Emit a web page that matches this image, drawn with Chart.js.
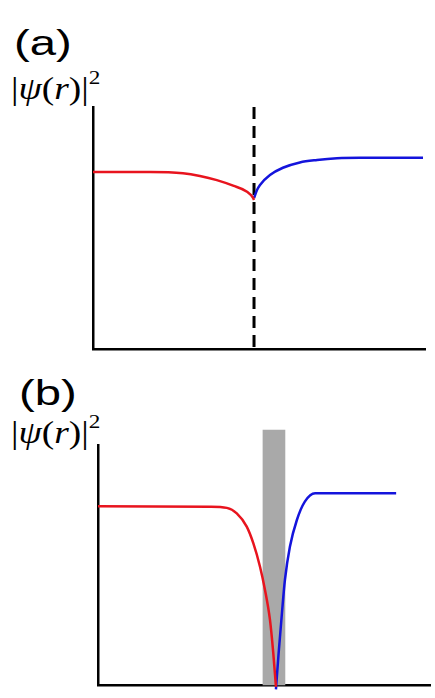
<!DOCTYPE html>
<html>
<head>
<meta charset="utf-8">
<script src="https://cdn.jsdelivr.net/npm/chart.js@4"></script>
<style>
  body { margin: 0; background: #fff; }
  #wrap { position: relative; width: 435px; height: 698px; overflow: hidden; }
  canvas { position: absolute; left: 0; }
  .tag { position: absolute; font-family: 'Liberation Sans', Arial, sans-serif; font-size: 35px; line-height: 1; transform: scaleX(1.35); transform-origin: left top; color: #000; }
  .psi { position: absolute; font-family: 'Liberation Serif', 'Times New Roman', serif; font-size: 32px; line-height: 1; color: #000; white-space: nowrap; transform: scaleX(1.17); transform-origin: left top; }
  .psi sup { font-size: 0.62em; position: relative; top: -0.2em; vertical-align: top; }
</style>
</head>
<body>
<div id="wrap">
  <div class="tag" style="left:14px; top:25px;">(a)</div>
  <div class="psi" style="left:11px; top:72px;">|<i>ψ</i>(<i>r</i>)|<sup>2</sup></div>
  <canvas id="chartA" width="435" height="360" style="top:0;"></canvas>

  <div class="tag" style="left:19px; top:375px;">(b)</div>
  <div class="psi" style="left:11px; top:416px;">|<i>ψ</i>(<i>r</i>)|<sup>2</sup></div>
  <canvas id="chartB" width="435" height="338" style="top:360px;"></canvas>
</div>
<script>
// panel (a): weak barrier
const redAx = [0, 1.72, 2.71, 3.22, 3.73, 4.22, 4.64, 4.82, 4.85];
const redAy = [0.731, 0.731, 0.726, 0.715, 0.698, 0.675, 0.650, 0.625, 0.616];
const blueAx = [4.85, 4.94, 5.03, 5.33, 5.72, 6.23, 6.75, 7.35, 8.04, 9.94];
const blueAy = [0.624, 0.657, 0.678, 0.719, 0.749, 0.771, 0.781, 0.788, 0.790, 0.790];
const wallA = 4.85;

// panel (b): strong barrier
const redBx = [0, 3.37, 3.88, 4.18, 4.48, 4.68, 4.88, 5.03, 5.18, 5.28, 5.36];
const redBy = [0.745, 0.743, 0.738, 0.715, 0.660, 0.590, 0.493, 0.396, 0.271, 0.132, -0.008];
const blueBx = [5.36, 5.44, 5.54, 5.63, 5.78, 5.99, 6.23, 6.54, 6.99, 8.98];
const blueBy = [-0.018, 0.132, 0.299, 0.4375, 0.576, 0.6875, 0.764, 0.799, 0.799, 0.799];
const barrierB = { x: 5.3, top: 1.0625 };

const RED = '#e8141e';
const BLUE = '#1414dc';

function pts(xs, ys) {
  return xs.map(function (x, i) { return { x: x, y: ys[i] }; });
}

function curve(xs, ys, color) {
  return {
    type: 'line',
    data: pts(xs, ys),
    borderColor: color,
    borderWidth: 2.5,
    pointRadius: 0,
    cubicInterpolationMode: 'monotone',
    fill: false,
    clip: false
  };
}

function axes() {
  return {
    x: {
      type: 'linear', min: 0, max: 10, z: 1, offset: false,
      grid: { display: false, drawTicks: false },
      ticks: { display: false },
      border: { display: true, color: '#000', width: 2.5 }
    },
    y: {
      type: 'linear', min: 0, max: 1,
      grid: { display: false, drawTicks: false },
      ticks: { display: false },
      border: { display: true, color: '#000', width: 2.5 }
    }
  };
}

const baseOpts = {
  responsive: false,
  animation: false,
  events: [],
  plugins: { legend: { display: false }, tooltip: { enabled: false } }
};

new Chart(document.getElementById('chartA'), {
  type: 'scatter',
  data: {
    datasets: [
      curve(redAx, redAy, RED),
      curve(blueAx, blueAy, BLUE),
      {
        type: 'line',
        data: [{ x: wallA, y: 1 }, { x: wallA, y: 0 }],
        borderColor: '#000',
        borderWidth: 3,
        borderDash: [12, 7],
        pointRadius: 0,
        fill: false,
        clip: false
      }
    ]
  },
  options: Object.assign({}, baseOpts, {
    layout: { padding: { left: 93, right: 10, top: 107, bottom: 11 } },
    scales: axes()
  })
});

new Chart(document.getElementById('chartB'), {
  type: 'scatter',
  data: {
    datasets: [
      curve(redBx, redBy, RED),
      curve(blueBx, blueBy, BLUE),
      {
        type: 'bar',
        data: [{ x: barrierB.x, y: [0, barrierB.top] }],
        backgroundColor: '#a9a9a9',
        borderWidth: 0,
        barThickness: 22,
        grouped: false,
        clip: false
      }
    ]
  },
  options: Object.assign({}, baseOpts, {
    layout: { padding: { left: 98, right: 5, top: 85, bottom: 13 } },
    scales: axes()
  })
});
</script>
</body>
</html>
